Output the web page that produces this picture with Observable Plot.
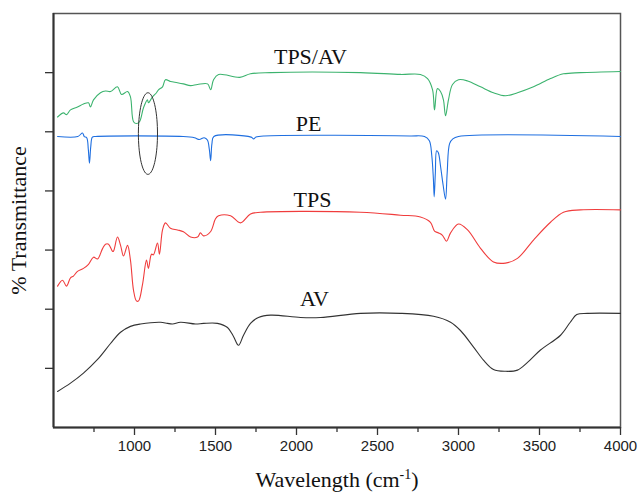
<!DOCTYPE html>
<html><head><meta charset="utf-8">
<script src="https://cdn.jsdelivr.net/npm/d3@7"></script>
<script src="https://cdn.jsdelivr.net/npm/@observablehq/plot@0.6"></script>
<style>body{margin:0;background:#fff}</style>
</head><body><div id="chart"></div>
<script>
// Wavenumbers (cm-1) and transmittance (offset, arbitrary units) per spectrum
const tpsavWn = [525,562,580,605,648,685,716,728,747,790,821,852,895,920,957,975,994,1012,1031,1056,1080,1086,1111,1136,1148,1173,1191,1222,1265,1302,1346,1389,1451,1470,1488,1519,1650,1716,1840,2395,2642,2765,2809,2840,2852,2870,2889,2907,2920,2938,2963,3000,3056,3136,3216,3290,3364,3463,3568,3648,3753,4000];
const tpsavT  = [5.25,5.32,5.29,5.37,5.42,5.47,5.49,5.42,5.54,5.66,5.69,5.68,5.76,5.63,5.68,5.59,5.17,5.14,5.17,5.41,5.54,5.49,5.59,5.66,5.71,5.76,5.88,5.85,5.83,5.81,5.78,5.80,5.81,5.71,5.88,5.97,5.92,5.98,6.00,6.00,5.97,5.97,5.90,5.71,5.37,5.73,5.68,5.54,5.27,5.54,5.80,5.88,5.86,5.76,5.66,5.61,5.66,5.76,5.90,5.98,6.00,6.02];

const peWn = [525,650,679,690,705,715,722,730,740,760,1300,1370,1400,1430,1450,1462,1470,1478,1490,1720,1735,1750,1800,2700,2790,2820,2835,2845,2850,2857,2865,2875,2890,2905,2920,2930,2945,2965,3000,4000];
const peT  = [4.92,4.92,4.98,4.92,4.90,4.70,4.47,4.75,4.91,4.92,4.92,4.90,4.87,4.90,4.86,4.70,4.51,4.80,4.92,4.91,4.88,4.91,4.93,4.93,4.92,4.85,4.60,4.20,3.90,4.30,4.68,4.65,4.40,4.10,3.86,4.30,4.80,4.88,4.92,4.92];

const tpsWn = [525,556,580,605,623,648,685,716,747,772,802,821,840,864,870,895,914,932,957,975,994,1012,1025,1049,1074,1086,1105,1117,1142,1154,1173,1191,1222,1265,1302,1346,1389,1407,1426,1469,1500,1519,1593,1654,1716,1778,2395,2642,2765,2827,2852,2877,2901,2926,2951,3000,3056,3136,3216,3290,3364,3463,3568,3648,3753,4000];
const tpsT  = [2.39,2.49,2.39,2.53,2.56,2.64,2.69,2.76,2.88,2.85,3.02,3.10,3.10,2.98,2.98,3.22,3.08,2.90,3.08,2.83,2.32,2.14,2.14,2.41,2.83,2.69,2.93,2.92,3.12,2.93,3.34,3.46,3.37,3.34,3.31,3.22,3.22,3.29,3.24,3.31,3.53,3.58,3.58,3.46,3.61,3.64,3.64,3.59,3.56,3.47,3.32,3.29,3.25,3.15,3.29,3.44,3.34,3.03,2.80,2.78,2.86,3.17,3.47,3.64,3.68,3.68];

const avWn = [525,605,685,772,852,914,975,1037,1161,1204,1235,1284,1377,1426,1512,1574,1611,1642,1673,1716,1765,1840,2025,2148,2395,2642,2846,2951,3012,3093,3154,3216,3290,3364,3426,3506,3630,3690,3730,3796,4000];
const avT  = [0.61,0.75,0.92,1.15,1.42,1.61,1.71,1.75,1.78,1.76,1.75,1.78,1.75,1.76,1.76,1.69,1.54,1.39,1.56,1.76,1.86,1.90,1.86,1.86,1.93,1.93,1.88,1.78,1.64,1.36,1.14,0.98,0.95,0.97,1.10,1.31,1.56,1.78,1.91,1.93,1.93];

const seriesNames  = ["TPS/AV","PE","TPS","AV"];
const seriesColors = ["#3cb36e","#1f6fe0","#f03c3c","#333333"];
const labelX = [2086,2074,2099,2111];
const labelY = [6.27,5.14,3.85,2.17];

const xMajorTicks = [1000,1500,2000,2500,3000,3500,4000];
const xMinorTicks = [750,1250,1750,2250,2750,3250,3750];
const yTicks = [1,2,3,4,5,6];
const xTitle = "Wavelength (cm-1)";
const yTitle = "% Transmittance";

// ellipse annotation around ~1083 cm-1
const ellipseCenter = [1083, 4.97];
const ellipseRadii = [59, 0.69];

const toRows = (wn, t, name) => wn.map((w, i) => ({wn: w, t: t[i], name}));
const rows = [
  ...toRows(tpsavWn, tpsavT, "TPS/AV"),
  ...toRows(peWn, peT, "PE"),
  ...toRows(tpsWn, tpsT, "TPS"),
  ...toRows(avWn, avT, "AV")
];
const labels = seriesNames.map((n, i) => ({name: n, x: labelX[i], y: labelY[i]}));
const ell = d3.range(0, 73).map(k => {
  const a = k / 72 * 2 * Math.PI;
  return {x: ellipseCenter[0] + ellipseRadii[0] * Math.cos(a), y: ellipseCenter[1] + ellipseRadii[1] * Math.sin(a)};
});
const serif = "'Liberation Serif', 'Times New Roman', serif";
const sans = "'Liberation Sans', Arial, sans-serif";

const chart = Plot.plot({
  width: 640,
  height: 493,
  marginLeft: 53,
  marginRight: 20,
  marginTop: 13,
  marginBottom: 66,
  style: {fontFamily: sans, fontSize: "15px", background: "#fff", color: "#222"},
  x: {domain: [500, 4000]},
  y: {domain: [0, 7]},
  color: {domain: seriesNames, range: seriesColors},
  marks: [
    Plot.frame({stroke: "#555", strokeWidth: 1.5}),
    Plot.axisX(xMinorTicks, {tickSize: 5, tickFormat: () => "", strokeWidth: 1.3, label: null, stroke: "#333"}),
    Plot.axisX(xMajorTicks, {tickSize: 8, tickFormat: () => "", strokeWidth: 1.3, label: null, stroke: "#333"}),
    Plot.text(xMajorTicks, {x: d => d, frameAnchor: "bottom", dy: 23, text: d3.format("d"), fontFamily: sans, fontSize: 15, fill: "#222"}),
    Plot.axisY(yTicks, {tickSize: 8, tickFormat: () => "", strokeWidth: 1.3, label: null, stroke: "#333"}),
    Plot.ruleY([0], {stroke: "#333", strokeWidth: 2}),
    Plot.ruleX([500], {stroke: "#333", strokeWidth: 2}),
    Plot.line(rows, {x: "wn", y: "t", z: "name", stroke: "name", strokeWidth: 1.1, curve: "catmull-rom"}),
    Plot.line(ell, {x: "x", y: "y", stroke: "#333", strokeWidth: 1}),
    Plot.text(labels, {x: "x", y: "y", text: "name", fontFamily: serif, fontSize: 22, fill: "#111"}),
    Plot.text([xTitle], {frameAnchor: "bottom", dy: 59, fontFamily: serif, fontSize: 22, fill: "#111"}),
    Plot.text([yTitle], {frameAnchor: "left", textAnchor: "middle", dx: -35, rotate: -90, fontFamily: serif, fontSize: 22, fill: "#111"})
  ]
});
// render the "-1" of the x title as a superscript
chart.querySelectorAll("text").forEach(t => {
  if (t.textContent === xTitle) {
    t.innerHTML = 'Wavelength (cm<tspan dy="-8" font-size="14">-1</tspan><tspan dy="8">)</tspan>';
  }
});
document.getElementById("chart").appendChild(chart);
</script>
</body></html>
